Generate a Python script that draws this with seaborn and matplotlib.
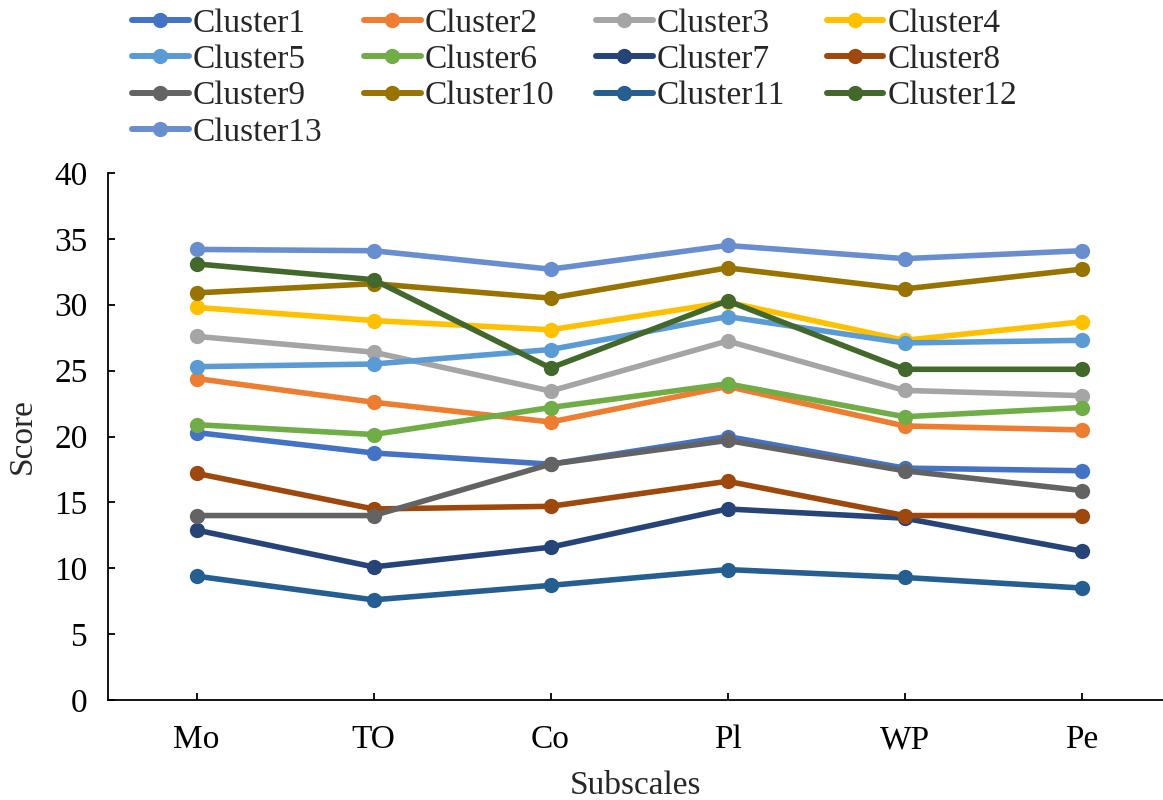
import pandas as pd
import seaborn as sns
import matplotlib.pyplot as plt
from matplotlib.lines import Line2D

subscales = ['Mo', 'TO', 'Co', 'Pl', 'WP', 'Pe']
clusters = ['Cluster%d' % i for i in range(1, 14)]

cluster1 = [20.3, 18.75, 17.9, 20.0, 17.6, 17.4]
cluster2 = [24.4, 22.6, 21.1, 23.8, 20.8, 20.5]
cluster3 = [27.6, 26.4, 23.45, 27.25, 23.5, 23.1]
cluster4 = [29.8, 28.8, 28.1, 30.2, 27.3, 28.7]
cluster5 = [25.3, 25.5, 26.6, 29.1, 27.1, 27.3]
cluster6 = [20.9, 20.15, 22.2, 24.0, 21.5, 22.2]
cluster7 = [12.9, 10.1, 11.6, 14.5, 13.8, 11.3]
cluster8 = [17.2, 14.5, 14.7, 16.6, 14.0, 14.0]
cluster9 = [14.0, 14.0, 17.9, 19.7, 17.4, 15.9]
cluster10 = [30.9, 31.6, 30.5, 32.8, 31.2, 32.7]
cluster11 = [9.4, 7.6, 8.7, 9.9, 9.3, 8.5]
cluster12 = [33.1, 31.9, 25.2, 30.3, 25.1, 25.1]
cluster13 = [34.2, 34.1, 32.7, 34.5, 33.5, 34.1]

values = [cluster1, cluster2, cluster3, cluster4, cluster5, cluster6, cluster7,
          cluster8, cluster9, cluster10, cluster11, cluster12, cluster13]

colors = ['#4472C4', '#ED7D31', '#A5A5A5', '#FFC000', '#5B9BD5', '#70AD47',
          '#264478', '#9E480E', '#636363', '#997300', '#255E91', '#43682B',
          '#698ED0']

rows = []
for name, vals in zip(clusters, values):
    for s, v in zip(subscales, vals):
        rows.append({'Subscales': s, 'Score': v, 'Cluster': name})
df = pd.DataFrame(rows)

sns.set_theme(style='white')
plt.rcParams['font.family'] = ['Liberation Serif', 'DejaVu Serif']

fig = plt.figure(figsize=(11.63, 8.0), dpi=100)
ax = fig.add_axes([108 / 1163, 100 / 800, 1055 / 1163, 527 / 800])

sns.lineplot(data=df, x='Subscales', y='Score', hue='Cluster',
             palette=colors, marker='o', markersize=11, markeredgewidth=0,
             linewidth=4.0, sort=False, legend=False, ax=ax)

ax.set_ylim(0, 40)
ax.set_xlim(-0.5, -0.5 + 1055 / 177)
ax.set_yticks(range(0, 41, 5))
for side in ['top', 'right']:
    ax.spines[side].set_visible(False)
for side in ['left', 'bottom']:
    ax.spines[side].set_color('black')
    ax.spines[side].set_linewidth(1.3)
ax.tick_params(axis='both', direction='in', length=5, width=1.3,
               colors='black', labelsize=24)
ax.tick_params(axis='y', pad=14.5, left=True)
ax.tick_params(axis='x', pad=18, bottom=True)
ax.set_xlabel('Subscales', fontsize=24, labelpad=11)
ax.set_ylabel('Score', fontsize=24, labelpad=12)

# legend is filled row by row in the reference
order = [0, 4, 8, 12, 1, 5, 9, 2, 6, 10, 3, 7, 11]
handles = [Line2D([], [], color=colors[i], linewidth=4.3, marker='o',
                  markersize=11, markeredgewidth=0) for i in order]
labels = [clusters[i] for i in order]
fig.legend(handles, labels, loc='upper left',
           bbox_to_anchor=(132 / 1163, 1 - 8 / 800), ncol=4, frameon=False,
           fontsize=24, handlelength=1.7, handletextpad=0.12,
           columnspacing=1.25, labelspacing=0.18, borderpad=0,
           borderaxespad=0)

fig.savefig('out.png', dpi=100)
